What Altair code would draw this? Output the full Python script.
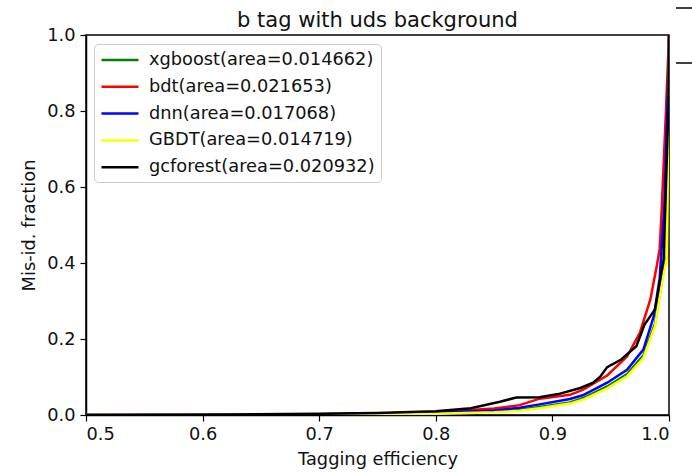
import altair as alt
import pandas as pd

models = ["xgboost(area=0.014662)", "bdt(area=0.021653)", "dnn(area=0.017068)",
          "GBDT(area=0.014719)", "gcforest(area=0.020932)"]
colors = ["#008000", "#ff0000", "#0000ff", "#ffff00", "#000000"]

xgb_x = [0.5, 0.6, 0.7, 0.75, 0.8, 0.85, 0.872, 0.889, 0.915, 0.926, 0.947, 0.964, 0.978, 0.988, 0.994, 0.998, 0.9992, 1.0]
xgb_y = [0.0, 0.0003, 0.0015, 0.003, 0.005, 0.009, 0.013, 0.021, 0.033, 0.044, 0.075, 0.108, 0.157, 0.24, 0.355, 0.42, 0.7, 1.0]

bdt_x = [0.5, 0.6, 0.7, 0.75, 0.8, 0.85, 0.872, 0.889, 0.915, 0.926, 0.947, 0.964, 0.975, 0.984, 0.9895, 0.992, 0.9935, 0.9974, 1.0]
bdt_y = [0.0, 0.0005, 0.002, 0.004, 0.008, 0.017, 0.026, 0.043, 0.053, 0.066, 0.104, 0.154, 0.216, 0.304, 0.392, 0.437, 0.525, 0.80, 1.0]

dnn_x = [0.5, 0.6, 0.7, 0.75, 0.8, 0.85, 0.872, 0.889, 0.915, 0.926, 0.947, 0.964, 0.978, 0.987, 0.992, 0.996, 0.999, 1.0]
dnn_y = [0.0, 0.0004, 0.0018, 0.0035, 0.006, 0.012, 0.019, 0.028, 0.042, 0.052, 0.085, 0.119, 0.172, 0.26, 0.36, 0.55, 0.85, 1.0]

gbdt_x = [0.5, 0.6, 0.7, 0.75, 0.8, 0.85, 0.872, 0.889, 0.915, 0.926, 0.947, 0.964, 0.978, 0.988, 0.994, 0.998, 0.9993, 1.0]
gbdt_y = [0.0, 0.0002, 0.001, 0.002, 0.003, 0.007, 0.011, 0.018, 0.03, 0.04, 0.07, 0.102, 0.15, 0.234, 0.349, 0.41, 0.7, 1.0]

gcf_x = [0.5, 0.6, 0.7, 0.75, 0.8, 0.83, 0.855, 0.869, 0.889, 0.905, 0.924, 0.935, 0.941, 0.947, 0.959, 0.972, 0.979, 0.988, 0.991, 0.9954, 0.9994, 1.0]
gcf_y = [0.0, 0.0008, 0.003, 0.005, 0.01, 0.018, 0.035, 0.046, 0.047, 0.055, 0.071, 0.085, 0.101, 0.126, 0.146, 0.181, 0.238, 0.278, 0.33, 0.41, 0.80, 1.0]

series = [(xgb_x, xgb_y), (bdt_x, bdt_y), (dnn_x, dnn_y), (gbdt_x, gbdt_y), (gcf_x, gcf_y)]

FONT = "DejaVu Sans"
FS = 17.8

color_enc = alt.Color(
    "model:N",
    scale=alt.Scale(domain=models, range=colors),
    sort=models,
    legend=alt.Legend(
        title=None,
        orient="none",
        legendX=8,
        legendY=9,
        symbolType="M-1,0H3.35",
        symbolSize=289,
        symbolStrokeWidth=2.5,
        symbolFillColor="transparent",
        labelFont=FONT,
        labelFontSize=FS,
        labelColor="#111111",
        labelOffset=29,
        labelLimit=400,
        padding=6,
        rowPadding=7.8,
        fillColor="white",
        strokeColor="#cccccc",
        cornerRadius=4,
    ),
)

x_enc = alt.X(
    "x:Q",
    scale=alt.Scale(domain=[0.5, 1.0], nice=False, zero=False),
    axis=alt.Axis(
        title="Tagging efficiency",
        values=[0.5, 0.6, 0.7, 0.8, 0.9, 1.0],
        format=".1f",
        grid=False,
        tickSize=6,
        labelPadding=4,
        titleBaseline="alphabetic",
        titleY=49,
    ),
)
y_enc = alt.Y(
    "y:Q",
    scale=alt.Scale(domain=[0.0, 1.0], nice=False),
    axis=alt.Axis(
        title="Mis-id. fraction",
        values=[0.0, 0.2, 0.4, 0.6, 0.8, 1.0],
        format=".1f",
        grid=False,
        tickSize=6,
        labelPadding=5,
        titleAngle=270,
        titleBaseline="alphabetic",
        titleX=-52,
    ),
)

layers = []
for name, (xs, ys) in zip(models, series):
    df = pd.DataFrame({"x": xs, "y": ys, "model": name})
    layers.append(
        alt.Chart(df).mark_line(strokeWidth=2.5, clip=True).encode(
            x=x_enc, y=y_enc, color=color_enc, order="x:Q"
        )
    )

deco = pd.DataFrame({"k": [0]})
stray1 = alt.Chart(deco).mark_rule(color="black", strokeWidth=1.5).encode(
    x=alt.value(590), x2=alt.value(606), y=alt.value(-27)
)
stray2 = alt.Chart(deco).mark_rule(color="black", strokeWidth=1.5).encode(
    x=alt.value(590), x2=alt.value(606), y=alt.value(28)
)

chart = alt.layer(*layers, stray1, stray2).properties(
    width=583,
    height=380,
    title=alt.TitleParams(
        "b tag with uds background",
        font=FONT,
        fontSize=21,
        fontWeight="normal",
        color="#111111",
        baseline="alphabetic",
        offset=9,
        dy=50,
    ),
    autosize=alt.AutoSizeParams(type="none"),
    padding={"left": 86, "top": 35, "right": 23, "bottom": 61},
).configure_view(
    stroke="black", strokeWidth=1.5
).configure_axis(
    domainColor="black",
    domainWidth=1.5,
    tickColor="black",
    tickWidth=1.2,
    labelFont=FONT,
    labelFontSize=FS,
    labelColor="#111111",
    titleFont=FONT,
    titleFontSize=FS,
    titleFontWeight="normal",
    titleColor="#111111",
)

chart.save("out.html", embed_options={"renderer": "svg", "actions": False})
